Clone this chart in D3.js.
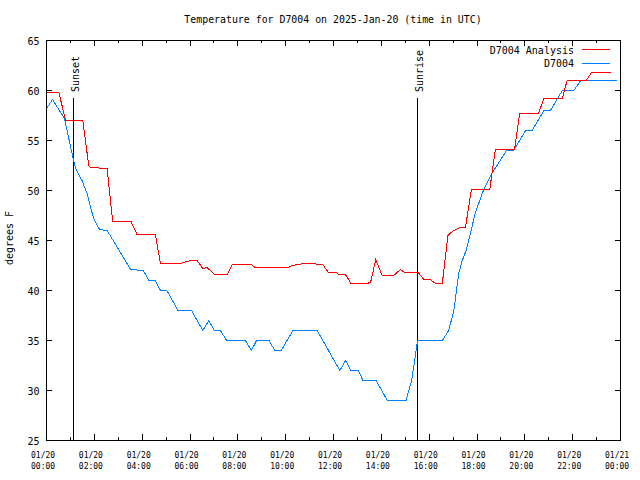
<!DOCTYPE html>
<html><head><meta charset="utf-8">
<script src="https://cdn.jsdelivr.net/npm/d3@7"></script>
<style>body{margin:0;background:#fff}svg{display:block}</style>
</head><body><svg id="c" width="640" height="480"></svg>
<script>
const title = "Temperature for D7004 on 2025-Jan-20 (time in UTC)";
const yLabel = "degrees F";
const seriesNames = ["D7004 Analysis", "D7004"];
const seriesColors = ["#ff0000", "#0080ff"];
const dayStart = "2025-01-20T00:00";
const dayEnd = "2025-01-21T00:00";
const yDomain = [25, 65];
const yTicks = [25, 30, 35, 40, 45, 50, 55, 60, 65];

const analysisTimes = ["00:00","00:31","00:48","01:31","01:46","01:50","02:32","02:46","03:32","03:47",
  "04:33","04:46","05:36","06:01","06:18","06:32","06:43","07:01","07:33","07:46",
  "08:33","08:44","10:05","10:16","10:47","10:58","11:33","11:47","12:07","12:13",
  "12:30","12:44","13:23","13:33","13:46","14:02","14:31","14:48","14:58","15:32",
  "15:47","16:03","16:16","16:33","16:47","16:58","17:17","17:31","17:46","18:32",
  "18:46","19:34","19:47","20:34","20:48","21:34","21:46","22:34","22:47","23:35"];
const analysisValues = [59.8,59.8,57.0,57.0,52.5,52.3,52.2,46.9,46.9,45.6,
  45.6,42.7,42.7,43.0,43.0,42.2,42.3,41.6,41.6,42.6,
  42.6,42.3,42.3,42.5,42.7,42.7,42.6,41.8,41.8,41.6,
  41.6,40.7,40.7,40.8,43.1,41.5,41.5,42.1,41.8,41.8,
  41.1,41.1,40.7,40.7,45.5,45.9,46.3,46.3,50.1,50.1,
  54.1,54.1,57.7,57.7,59.2,59.2,61.0,61.0,61.8,61.8];

const obsTimes = ["00:00","00:15","00:45","01:08","01:13","01:29","01:42","01:58","02:13","02:32",
  "03:31","04:03","04:17","04:33","04:46","05:02","05:30","06:04","06:32","06:47",
  "07:01","07:16","07:32","08:19","08:34","08:47","09:18","09:33","09:49","10:18",
  "11:19","12:16","12:30","12:44","13:02","13:14","13:47","14:15","15:02","15:16",
  "15:31","16:33","16:49","17:02","17:14","17:23","17:33","17:44","17:56","18:16",
  "18:34","19:14","19:32","20:02","20:18","20:48","21:04","21:34","22:03","22:20","23:50"];
const obsValues = [58.2,59.1,57.2,53.0,52.2,51.0,49.7,47.2,46.1,46.0,
  42.1,42.0,41.0,41.0,40.0,40.0,38.0,38.0,36.0,37.0,
  36.0,36.0,35.0,35.0,34.0,35.0,35.0,34.0,34.0,36.0,
  36.0,32.0,33.0,32.0,32.0,31.0,31.0,29.0,29.0,31.0,
  35.0,35.0,36.0,38.0,41.7,43.0,44.0,45.8,47.8,50.0,
  51.5,54.0,54.0,56.0,56.0,58.0,58.0,60.0,60.0,61.0,61.0];

const eventNames = ["Sunset", "Sunrise"];
const eventTimes = ["01:08", "15:31"];

const parseFull = d3.utcParse("%Y-%m-%dT%H:%M");
const parseT = t => parseFull("2025-01-20T" + t);

const L = 46, R = 620, T = 40, B = 440;
const svg = d3.select("#c");
const x = d3.scaleUtc().domain([parseFull(dayStart), parseFull(dayEnd)]).range([L + 0.5, R + 0.5]);
const y = d3.scaleLinear().domain(yDomain).range([B + 0.5, T + 0.5]);

const mono = "'DejaVu Sans Mono', 'Liberation Mono', monospace";

// Title
svg.append("text").attr("x", 333).attr("y", 23).attr("text-anchor", "middle")
  .attr("font-family", mono).attr("font-size", 9.9).attr("fill", "#000").text(title);

// Y label
svg.append("text").attr("transform", "translate(13,238) rotate(-90)").attr("text-anchor", "middle")
  .attr("font-family", mono).attr("font-size", 10).attr("fill", "#000").text(yLabel);

const g = svg.append("g").attr("shape-rendering", "crispEdges");

// Y ticks
yTicks.forEach(v => {
  const yy = y(v);
  g.append("line").attr("x1", L).attr("x2", L + 6).attr("y1", yy).attr("y2", yy).attr("stroke", "#000");
  g.append("line").attr("x1", R + 1).attr("x2", R - 5).attr("y1", yy).attr("y2", yy).attr("stroke", "#000");
  svg.append("text").attr("x", 39.5).attr("y", yy + 4).attr("text-anchor", "end")
    .attr("font-family", mono).attr("font-size", 10).attr("fill", "#000").text(v);
});

// X ticks
const minorTicks = x.ticks(d3.utcHour.every(1));
const majorTicks = x.ticks(d3.utcHour.every(2));
minorTicks.forEach(d => {
  const isMajor = d.getUTCHours() % 2 === 0;
  const len = isMajor ? 6 : 3;
  const xx = x(d);
  g.append("line").attr("x1", xx).attr("x2", xx).attr("y1", B + 1).attr("y2", B + 1 - len - 1).attr("stroke", "#000");
  g.append("line").attr("x1", xx).attr("x2", xx).attr("y1", T).attr("y2", T + len).attr("stroke", "#000");
});
const fDate = d3.utcFormat("%m/%d"), fTime = d3.utcFormat("%H:%M");
majorTicks.forEach(d => {
  const xx = x(d) - 15.5;
  const t = svg.append("text").attr("font-family", mono).attr("font-size", 8).attr("fill", "#000");
  t.append("tspan").attr("x", xx).attr("y", 457.5).text(fDate(d));
  t.append("tspan").attr("x", xx).attr("y", 469).text(fTime(d));
});

// Event lines
eventNames.forEach((n, i) => {
  const xx = Math.round(x(parseT(eventTimes[i])) - 0.5) + 0.5;
  g.append("line").attr("x1", xx).attr("x2", xx).attr("y1", 98).attr("y2", B + 0.5).attr("stroke", "#000");
  svg.append("text").attr("transform", `translate(${xx + 5.5},92) rotate(-90)`)
    .attr("font-family", mono).attr("font-size", 10).attr("fill", "#000").text(n);
});

// Series
const line = d3.line().x(d => x(d[0])).y(d => y(d[1]));
const seriesData = [
  analysisTimes.map((t, i) => [parseT(t), analysisValues[i]]),
  obsTimes.map((t, i) => [parseT(t), obsValues[i]])
];
[1, 0].forEach(i => {
  svg.append("path").datum(seriesData[i]).attr("d", line).attr("fill", "none")
    .attr("shape-rendering", "crispEdges")
    .attr("stroke", seriesColors[i]).attr("stroke-width", 1);
});

// Legend
seriesNames.forEach((n, i) => {
  const ly = 49 + i * 13.5;
  svg.append("text").attr("x", 574).attr("y", ly + 4.5).attr("text-anchor", "end")
    .attr("font-family", mono).attr("font-size", 10).attr("fill", "#000").text(n);
  g.append("line").attr("x1", 582).attr("x2", 610).attr("y1", Math.round(ly) + 0.5).attr("y2", Math.round(ly) + 0.5)
    .attr("stroke", seriesColors[i]);
});

// Frame
g.append("rect").attr("x", L + 0.5).attr("y", T + 0.5).attr("width", R - L).attr("height", B - T)
  .attr("fill", "none").attr("stroke", "#000");
</script></body></html>
